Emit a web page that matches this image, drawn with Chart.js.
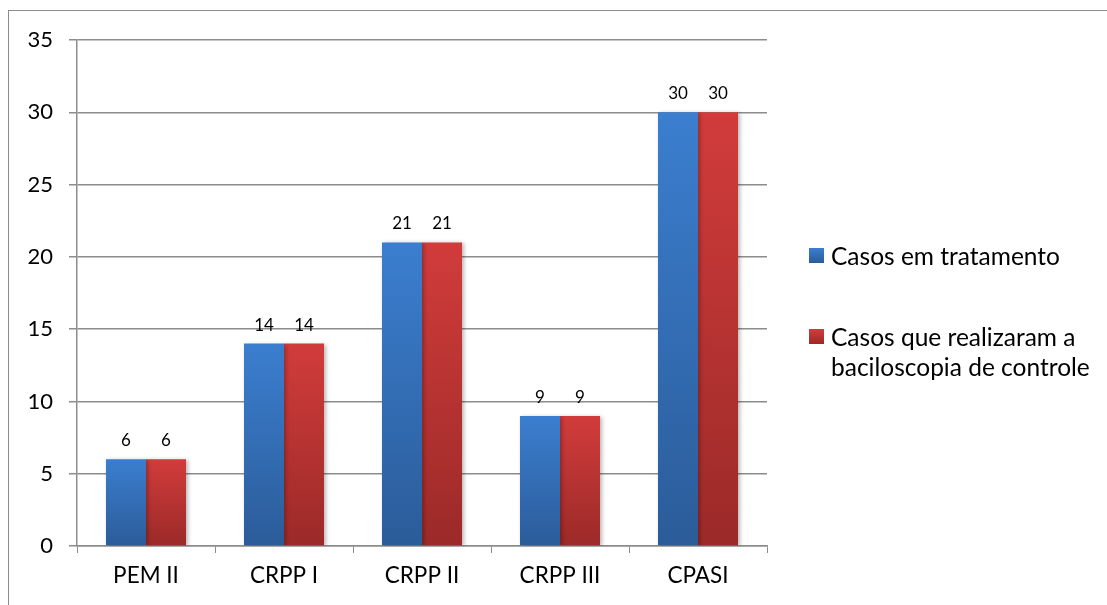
<!DOCTYPE html>
<html>
<head>
<meta charset="utf-8">
<script src="https://cdn.jsdelivr.net/npm/chart.js@4/dist/chart.umd.min.js"></script>
<style>
  html, body { margin: 0; padding: 0; background: #fff; }
  #wrap { position: relative; width: 1107px; height: 605px; overflow: hidden; }
  #frame { position: absolute; left: 8px; top: 10px; width: 1200px; height: 700px;
           border-left: 1px solid #8c8c8c; border-top: 1px solid #8c8c8c; }
  canvas { position: absolute; left: 0; top: 0; }
  #legend { position: absolute; left: 809px; top: 241px; font-family: Lato, sans-serif;
            font-size: 24.5px; color: #000; }
  .item { display: flex; align-items: flex-start; }
  .box { width: 15px; height: 15px; margin-top: 7px; margin-right: 7px; flex: none; }
  .txt { line-height: 30px; white-space: nowrap; }
</style>
</head>
<body>
<div id="wrap">
  <div id="frame"></div>
  <canvas id="chart" width="1107" height="605"></canvas>
  <div id="legend"></div>
</div>
<script>
document.addEventListener("DOMContentLoaded", function () {
    const categories = ["PEM II", "CRPP I", "CRPP II", "CRPP III", "CPASI"];
    const emTratamento = [6, 14, 21, 9, 30];
    const realizaram = [6, 14, 21, 9, 30];
    const seriesNames = ["Casos em tratamento", ["Casos que realizaram a", "baciloscopia de controle"]];
    const yTicks = [0, 5, 10, 15, 20, 25, 30, 35];

    const blueTop = "#3b7ecf", blueBottom = "#2b5c99";
    const redTop = "#d13c3b", redBottom = "#9b2a28";

    function barGradient(top, bottom) {
        return function (context) {
            const chart = context.chart;
            const y = chart.scales.y;
            if (!y || !context.parsed) return top;
            const y0 = y.getPixelForValue(context.parsed.y);
            const y1 = y.getPixelForValue(0);
            if (!isFinite(y0) || !isFinite(y1) || y0 === y1) return top;
            const g = chart.ctx.createLinearGradient(0, y0, 0, y1);
            g.addColorStop(0, top);
            g.addColorStop(1, bottom);
            return g;
        };
    }

    const shadowPlugin = {
        id: "shadow",
        beforeDatasetDraw(chart) {
            const ctx = chart.ctx;
            ctx.save();
            ctx.shadowColor = "rgba(0,0,0,0.28)";
            ctx.shadowBlur = 4;
            ctx.shadowOffsetX = 2;
            ctx.shadowOffsetY = 1;
        },
        afterDatasetDraw(chart) {
            chart.ctx.restore();
        }
    };

    const valueLabels = {
        id: "valueLabels",
        afterDatasetsDraw(chart) {
            const ctx = chart.ctx;
            ctx.save();
            ctx.font = "17px Lato, sans-serif";
            ctx.fillStyle = "#000";
            ctx.textAlign = "center";
            ctx.textBaseline = "alphabetic";
            chart.data.datasets.forEach((ds, i) => {
                chart.getDatasetMeta(i).data.forEach((bar, j) => {
                    ctx.fillText(ds.data[j], bar.x, bar.y - 13);
                });
            });
            ctx.restore();
        }
    };

    const gridColor = "#8c8c8c";

    new Chart(document.getElementById("chart").getContext("2d"), {
        type: "bar",
        data: {
            labels: categories,
            datasets: [{
                label: seriesNames[0],
                data: emTratamento,
                backgroundColor: barGradient(blueTop, blueBottom),
                borderWidth: 0,
                barPercentage: 1.0,
                categoryPercentage: 0.58
            }, {
                label: seriesNames[1].join(" "),
                data: realizaram,
                backgroundColor: barGradient(redTop, redBottom),
                borderWidth: 0,
                barPercentage: 1.0,
                categoryPercentage: 0.58
            }]
        },
        options: {
            responsive: false,
            animation: false,
            layout: { padding: { left: 10, right: 340, top: 40, bottom: 0 } },
            plugins: {
                legend: { display: false },
                tooltip: { enabled: false }
            },
            scales: {
                x: {
                    offset: true,
                    grid: { display: true, drawOnChartArea: false, offset: true, color: gridColor, tickLength: 7 },
                    border: { color: gridColor, width: 1.5 },
                    ticks: { color: "#000", font: { family: "Lato, sans-serif", size: 22.5 }, padding: 9, maxRotation: 0 },
                    afterFit(scale) { scale.height = 59; }
                },
                y: {
                    min: 0,
                    max: 35,
                    afterBuildTicks(scale) { scale.ticks = yTicks.map(v => ({ value: v })); },
                    grid: { color: gridColor, lineWidth: 1.5, tickLength: 8 },
                    border: { color: gridColor, width: 1.5 },
                    ticks: { color: "#000", font: { family: "Lato, sans-serif", size: 22 }, padding: 16 },
                    afterFit(scale) { scale.width = 67; }
                }
            }
        },
        plugins: [shadowPlugin, valueLabels]
    });

    // legend on the right, wrapped like the original
    const legend = document.getElementById("legend");
    const boxes = [[blueTop, blueBottom], [redTop, redBottom]];
    seriesNames.forEach((name, i) => {
        const item = document.createElement("div");
        item.className = "item";
        if (i > 0) item.style.marginTop = "51px";
        const box = document.createElement("div");
        box.className = "box";
        box.style.background = "linear-gradient(" + boxes[i][0] + "," + boxes[i][1] + ")";
        const txt = document.createElement("div");
        txt.className = "txt";
        txt.innerHTML = [].concat(name).join("<br>");
        item.appendChild(box);
        item.appendChild(txt);
        legend.appendChild(item);
    });
});
</script>
</body>
</html>
